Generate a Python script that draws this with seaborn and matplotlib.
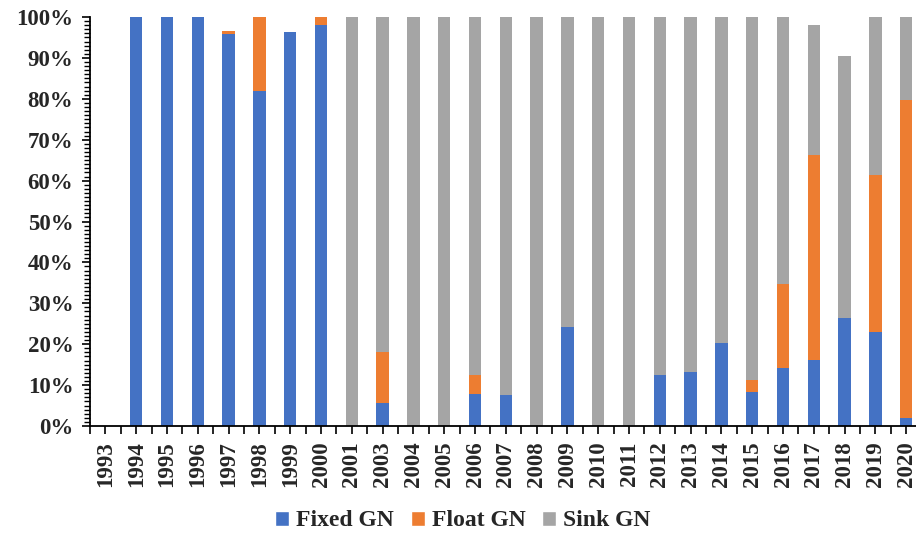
import numpy as np
import pandas as pd
import matplotlib
matplotlib.use('Agg')
import matplotlib.pyplot as plt
import seaborn as sns
from matplotlib.patches import Patch
from matplotlib.ticker import MultipleLocator, FixedLocator

# Share of gillnet types per year (percent)
years = ['1993', '1994', '1995', '1996', '1997', '1998', '1999', '2000', '2001',
         '2003', '2004', '2005', '2006', '2007', '2008', '2009', '2010', '2011',
         '2012', '2013', '2014', '2015', '2016', '2017', '2018', '2019', '2020']
fixed_gn = [0, 100, 100, 100, 95.8, 81.8, 96.4, 98.1, 0,
            5.7, 0, 0, 7.9, 7.5, 0, 24.2, 0, 0,
            12.4, 13.1, 20.4, 8.3, 14.1, 16.1, 26.3, 23.0, 2.0]
float_gn = [0, 0, 0, 0, 0.7, 18.2, 0, 1.9, 0,
            12.3, 0, 0, 4.5, 0, 0, 0, 0, 0,
            0, 0, 0, 2.9, 20.6, 50.2, 0, 38.4, 77.7]
sink_gn = [0, 0, 0, 0, 0, 0, 0, 0, 100,
           82.0, 100, 100, 87.6, 92.5, 100, 75.8, 100, 100,
           87.6, 86.9, 79.6, 88.8, 65.3, 31.8, 64.2, 38.6, 20.3]

df = pd.DataFrame({'year': years, 'fixed': fixed_gn, 'float': float_gn, 'sink': sink_gn})
df['lvl2'] = df['fixed'] + df['float']
df['lvl3'] = df['lvl2'] + df['sink']

colors = {'Fixed GN': '#4472C4', 'Float GN': '#ED7D31', 'Sink GN': '#A5A5A5'}

sns.set_style('ticks')
plt.rcParams['font.family'] = ['Liberation Serif', 'DejaVu Serif']
plt.rcParams['font.weight'] = 'bold'

fig = plt.figure(figsize=(9.16, 5.42), dpi=100)
ax = fig.add_axes([90 / 916, 116 / 542, 831.6 / 916, 409 / 542])

# stacked bars drawn as cumulative totals, back to front
for col, name in [('lvl3', 'Sink GN'), ('lvl2', 'Float GN'), ('fixed', 'Fixed GN')]:
    sns.barplot(data=df, x='year', y=col, color=colors[name], width=0.4,
                saturation=1, linewidth=0, ax=ax)

ax.set_xlim(-0.5, len(years) - 0.5)
ax.set_ylim(0, 100)
ax.set_xlabel('')
ax.set_ylabel('')
ax.yaxis.set_minor_locator(MultipleLocator(1))
ax.set_yticks(np.arange(0, 101, 10))
ax.set_yticklabels([f'{v}%' for v in range(0, 101, 10)], fontsize=16.5, fontweight='bold')
ax.set_xticks(range(len(years)))
ax.set_xticklabels(years, rotation=90, fontsize=16.5, fontweight='bold')
ax.xaxis.set_minor_locator(FixedLocator(np.arange(-0.5, len(years), 1)))

ax.tick_params(axis='y', which='major', length=6, width=1.2, color='black', pad=6)
ax.tick_params(axis='y', which='minor', length=4, width=1.0, color='black')
ax.tick_params(axis='x', which='both', length=6, width=1.2, color='black', pad=5)

sns.despine(ax=ax, top=True, right=True)
for side in ['left', 'bottom']:
    ax.spines[side].set_linewidth(1.3)
    ax.spines[side].set_color('black')

handles = [Patch(facecolor=c, label=k) for k, c in colors.items()]
fig.legend(handles=handles, loc='center', bbox_to_anchor=(463 / 916, 1 - 521 / 542),
           ncol=3, frameon=False, handlelength=0.6, handleheight=0.6,
           handletextpad=0.3, columnspacing=0.7, prop={'weight': 'bold', 'size': 17})

fig.savefig('out.png', dpi=100)
